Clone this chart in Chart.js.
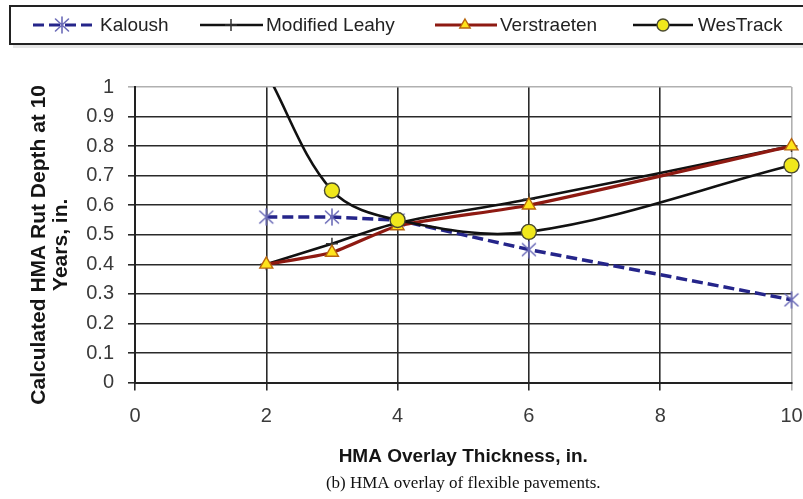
<!DOCTYPE html>
<html>
<head>
<meta charset="utf-8">
<script src="https://cdn.jsdelivr.net/npm/chart.js@4/dist/chart.umd.min.js"></script>
<style>
  html, body { margin: 0; padding: 0; background: #ffffff; }
  #wrap { width: 803px; height: 499px; position: relative; }
  canvas { display: block; }
</style>
</head>
<body>
<div id="wrap"><canvas id="rut" width="803" height="499"></canvas></div>
<script>
// Overlay thickness (in.) and calculated rut depth at 10 years (in.)
const thickness = [2, 3, 4, 6, 10];
const kaloush = [0.56, 0.56, 0.55, 0.45, 0.28];
const modifiedLeahy = [0.40, 0.47, 0.54, 0.62, 0.80];
const verstraeten = [0.40, 0.44, 0.53, 0.60, 0.80];
const wesTrack = [1.05, 0.65, 0.55, 0.51, 0.735];

const seriesNames = ['Kaloush', 'Modified Leahy', 'Verstraeten', 'WesTrack'];
const xTicks = [0, 2, 4, 6, 8, 10];
const yTitle = ['Calculated HMA Rut Depth at 10', 'Years, in.'];
const xTitle = 'HMA Overlay Thickness, in.';
const caption = '(b) HMA overlay of flexible pavements.';

const SANS = '"Liberation Sans", Arial, sans-serif';
const SERIF = '"Liberation Serif", "Times New Roman", serif';

// Asterisk-style marker (an X crossed by a vertical stroke)
function makeStar(color) {
  const c = document.createElement('canvas');
  c.width = 18; c.height = 18;
  const g = c.getContext('2d');
  g.strokeStyle = color;
  g.lineWidth = 1.6;
  g.lineCap = 'round';
  g.beginPath();
  g.moveTo(2.5, 3); g.lineTo(15.5, 15);
  g.moveTo(15.5, 3); g.lineTo(2.5, 15);
  g.moveTo(9, 1); g.lineTo(9, 17);
  g.stroke();
  return c;
}
const starMarker = makeStar('#6c6cb8');

const pts = (ys) => thickness.map((x, i) => ({ x, y: ys[i] }));
const clipBox = { left: 12, right: 14, top: 0, bottom: 12 };

const datasets = [
  {
    label: seriesNames[0], data: pts(kaloush), order: 4,
    borderColor: '#25258a', borderWidth: 3.5, borderDash: [11, 5], tension: 0,
    pointStyle: starMarker, pointRadius: 8,
    pointBackgroundColor: '#6c6cb8', pointBorderColor: '#6c6cb8', clip: clipBox
  },
  {
    label: seriesNames[1], data: pts(modifiedLeahy), order: 3,
    borderColor: '#111111', borderWidth: 2.6, tension: 0.3,
    pointStyle: 'cross', pointRadius: 6, pointBorderWidth: 1.5,
    pointBorderColor: '#333333', pointBackgroundColor: '#333333', clip: clipBox
  },
  {
    label: seriesNames[2], data: pts(verstraeten), order: 2,
    borderColor: '#8e1a12', borderWidth: 3.2, tension: 0.2,
    pointStyle: 'triangle', pointRadius: 7.5, pointBorderWidth: 1.4,
    pointBackgroundColor: '#ffe41a', pointBorderColor: '#b8660e', clip: clipBox
  },
  {
    label: seriesNames[3], data: pts(wesTrack), order: 1,
    borderColor: '#111111', borderWidth: 2.6, tension: 0.35,
    pointStyle: 'circle', pointRadius: 7.5, pointBorderWidth: 1.4,
    pointBackgroundColor: '#f0e81c', pointBorderColor: '#4a4a30', clip: clipBox
  }
];

// Boxed legend across the top: line sample, marker and name for each series
const legendSlots = [
  { x0: 33, x1: 97, mx: 62, tx: 100 },
  { x0: 200, x1: 263, mx: 231, tx: 266 },
  { x0: 435, x1: 497, mx: 465, tx: 500 },
  { x0: 633, x1: 693, mx: 663, tx: 698 }
];
const boxedLegend = {
  id: 'boxedLegend',
  afterDraw(chart) {
    const ctx = chart.ctx;
    ctx.save();
    // soft shadow under the frame
    ctx.fillStyle = 'rgba(0,0,0,0.10)';
    ctx.fillRect(13, 45, 800, 3);
    ctx.strokeStyle = '#222222';
    ctx.lineWidth = 2;
    ctx.strokeRect(10, 6, 810, 38);
    const cy = 25;
    chart.data.datasets.forEach((ds, i) => {
      const s = legendSlots[i];
      ctx.save();
      ctx.strokeStyle = ds.borderColor;
      ctx.lineWidth = Math.min(ds.borderWidth, 3);
      ctx.setLineDash(ds.borderDash || []);
      ctx.beginPath();
      ctx.moveTo(s.x0, cy); ctx.lineTo(s.x1, cy);
      ctx.stroke();
      ctx.restore();
      ctx.save();
      ctx.fillStyle = ds.pointBackgroundColor;
      ctx.strokeStyle = ds.pointBorderColor;
      ctx.lineWidth = ds.pointBorderWidth || 1;
      Chart.helpers.drawPoint(ctx, {
        pointStyle: ds.pointStyle, rotation: 0,
        radius: 6, borderWidth: ds.pointBorderWidth || 1
      }, s.mx, cy);
      ctx.restore();
      ctx.fillStyle = '#222222';
      ctx.font = '19px ' + SANS;
      ctx.textBaseline = 'middle';
      ctx.textAlign = 'left';
      ctx.fillText(ds.label, s.tx, cy + 1);
    });
    ctx.restore();
  }
};

// Two-line rotated value-axis title, centred a little below the plot middle
const valueAxisTitle = {
  id: 'valueAxisTitle',
  afterDraw(chart) {
    const ctx = chart.ctx;
    const area = chart.chartArea;
    const cy = (area.top + area.bottom) / 2 + 10;
    ctx.save();
    ctx.translate(39, cy);
    ctx.rotate(-Math.PI / 2);
    ctx.fillStyle = '#151515';
    ctx.font = 'bold 21px ' + SANS;
    ctx.textAlign = 'center';
    ctx.textBaseline = 'middle';
    yTitle.forEach((line, i) => ctx.fillText(line, 0, i * 22));
    ctx.restore();
  }
};

const whiteBg = {
  id: 'whiteBg',
  beforeDraw(chart) {
    const ctx = chart.ctx;
    ctx.save();
    ctx.fillStyle = '#ffffff';
    ctx.fillRect(0, 0, chart.width, chart.height);
    ctx.restore();
  }
};

const gridColor = (edgeValue) => (c) =>
  (c.tick && c.tick.value === edgeValue) ? '#b0b0b0' : '#2a2a2a';

new Chart(document.getElementById('rut'), {
  type: 'line',
  data: { datasets },
  options: {
    responsive: false,
    animation: false,
    events: [],
    layout: { padding: { top: 87, right: 0, left: 0, bottom: 0 } },
    plugins: {
      legend: { display: false },
      tooltip: { enabled: false },
      title: {
        display: true, position: 'bottom', text: caption, fullSize: false,
        color: '#111111', font: { family: SERIF, size: 17, weight: 'normal', lineHeight: 1.2 },
        padding: { top: 8, bottom: 4.8 }
      }
    },
    scales: {
      x: {
        type: 'linear', min: 0, max: 10,
        afterBuildTicks(scale) { scale.ticks = xTicks.map(v => ({ value: v })); },
        afterFit(scale) {
          scale.height = 83.2;
          scale.paddingLeft = 0;
          scale.paddingRight = 11.5;
        },
        ticks: { color: '#3a3a3a', padding: 14, font: { family: SANS, size: 20 } },
        grid: { color: gridColor(10), lineWidth: 1.6, tickLength: 8 },
        border: { color: '#222222', width: 2 },
        title: {
          display: true, text: xTitle, color: '#151515',
          font: { family: SANS, size: 19, weight: 'bold', lineHeight: 1.0 },
          padding: { top: 0, bottom: 0 }
        }
      },
      y: {
        type: 'linear', min: 0, max: 1,
        ticks: {
          stepSize: 0.1, color: '#3a3a3a', padding: 14,
          font: { family: SANS, size: 20 },
          callback: (v) => String(Math.round(v * 10) / 10)
        },
        afterFit(scale) { scale.width = 135; },
        grid: { color: gridColor(1), lineWidth: 1.6, tickLength: 7 },
        border: { color: '#222222', width: 2 },
        title: { display: false }
      }
    }
  },
  plugins: [whiteBg, boxedLegend, valueAxisTitle]
});
</script>
</body>
</html>
